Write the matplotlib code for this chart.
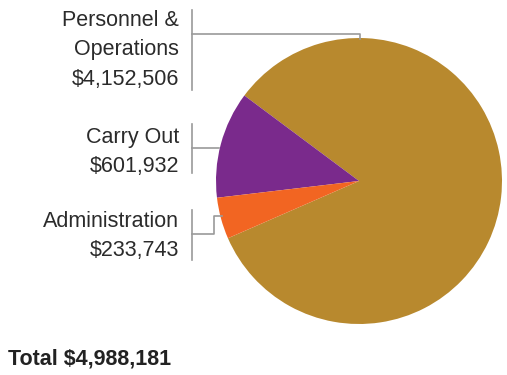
import matplotlib
matplotlib.use("Agg")
import matplotlib.pyplot as plt

# data
categories = ["Personnel &\nOperations", "Carry Out", "Administration"]
values = [4152506, 601932, 233743]
colors = ["#B8892E", "#7A2A8C", "#F26522"]
total = sum(values)

plt.rcParams["font.family"] = ["Liberation Sans", "DejaVu Sans"]

W, H = 507, 375
fig = plt.figure(figsize=(W / 100, H / 100), dpi=100)
ax = fig.add_axes([0, 0, 1, 1])


def Y(py):
    return H - py


cx, cy, r = 359, Y(181), 143
ax.pie(values, colors=colors, center=(cx, cy), radius=r,
       startangle=203.6, counterclock=True, frame=True,
       wedgeprops=dict(linewidth=0))
ax.set_xlim(0, W)
ax.set_ylim(0, H)
ax.set_aspect("equal")
ax.axis("off")

line_kw = dict(color="#9a9a9a", lw=1.2)
txt_kw = dict(ha="right", va="center", fontsize=15.5, color="#2b2b2b", linespacing=1.5)

# Personnel & Operations
ax.plot([192, 192], [Y(10), Y(90)], **line_kw)
ax.plot([192, 360, 360], [Y(34), Y(34), Y(39)], **line_kw)
ax.text(179, Y(50), f"{categories[0]}\n${values[0]:,}", **txt_kw)

# Carry Out
ax.plot([192, 192], [Y(124), Y(173)], **line_kw)
ax.plot([192, 219], [Y(148), Y(148)], **line_kw)
ax.text(179, Y(152), f"{categories[1]}\n${values[1]:,}", **txt_kw)

# Administration
ax.plot([192, 192], [Y(210), Y(260)], **line_kw)
ax.plot([192, 214, 214, 222], [Y(234), Y(234), Y(216), Y(216)], **line_kw)
ax.text(179, Y(236), f"{categories[2]}\n${values[2]:,}", **txt_kw)

ax.text(8, Y(359), f"Total ${total:,}", ha="left", va="center",
        fontsize=15.5, fontweight="bold", color="#222222")

fig.savefig("out.png", dpi=100)
